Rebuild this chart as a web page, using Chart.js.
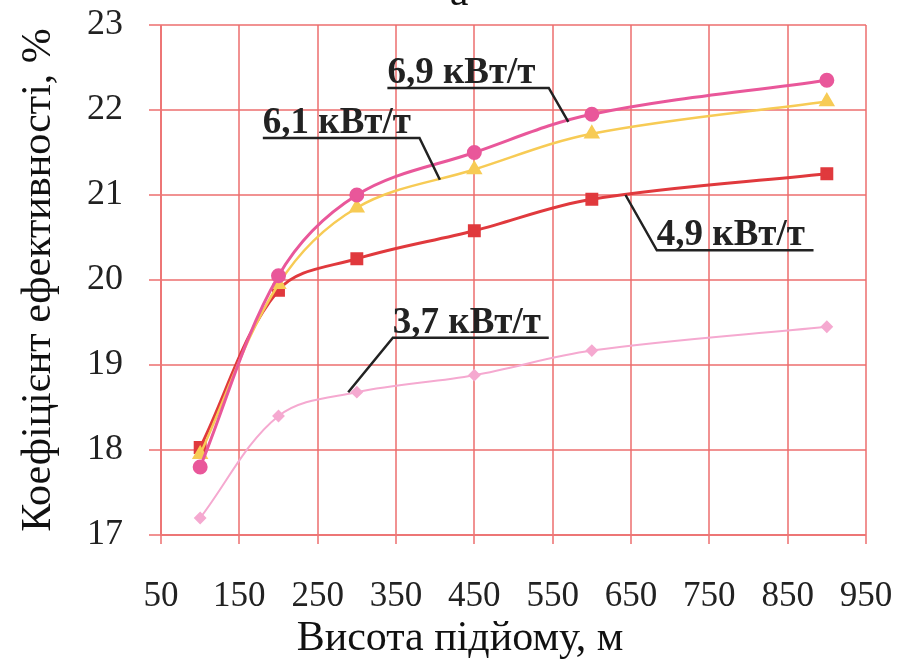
<!DOCTYPE html>
<html>
<head>
<meta charset="utf-8">
<script src="https://cdn.jsdelivr.net/npm/chart.js@4"></script>
<style>
  html, body { margin: 0; padding: 0; background: #fff; }
  #wrap { width: 918px; height: 663px; position: relative; }
</style>
</head>
<body>
<div id="wrap"><canvas id="chart"></canvas></div>
<script>
// lift heights, m
const heights = [100, 200, 300, 450, 600, 900];

// efficiency coefficient, % - one array per specific power
const eff69 = [17.8, 20.05, 21.0, 21.5, 21.95, 22.35];
const eff61 = [17.95, 19.95, 20.85, 21.3, 21.72, 22.1];
const eff49 = [18.03, 19.88, 20.25, 20.58, 20.95, 21.25];
const eff37 = [17.2, 18.4, 18.68, 18.88, 19.17, 19.45];

const seriesLabels = ['6,9 кВт/т', '6,1 кВт/т', '4,9 кВт/т', '3,7 кВт/т'];

const xTicks = [50, 150, 250, 350, 450, 550, 650, 750, 850, 950];
const yTicks = [17, 18, 19, 20, 21, 22, 23];

const gridColor = 'rgba(236, 110, 110, 0.75)';
const serif = '"Liberation Serif", "DejaVu Serif", serif';

function toPoints(ys) {
    return heights.map((h, i) => ({ x: h, y: ys[i] }));
}

// callouts in data units: text start, underline end, leader end
const callouts = [
    { text: seriesLabels[0], x0: 339, x1: 545, y: 22.26, lx: 570, ly: 21.86, from: 'end' },
    { text: seriesLabels[1], x0: 180, x1: 380, y: 21.67, lx: 406, ly: 21.18, from: 'end' },
    { text: seriesLabels[2], x0: 683, x1: 883, y: 20.35, lx: 643, ly: 21.0, from: 'start' },
    { text: seriesLabels[3], x0: 346, x1: 545, y: 19.32, lx: 289, ly: 18.68, from: 'start' },
];

const calloutPlugin = {
    id: 'callouts',
    afterDatasetsDraw(chart) {
        const { ctx, scales: { x, y } } = chart;
        ctx.save();
        ctx.strokeStyle = '#222';
        ctx.fillStyle = '#222';
        ctx.lineWidth = 2.5;
        ctx.font = 'bold 37px ' + serif;
        ctx.textBaseline = 'alphabetic';
        callouts.forEach(c => {
            const px0 = x.getPixelForValue(c.x0);
            const px1 = x.getPixelForValue(c.x1);
            const py = y.getPixelForValue(c.y);
            ctx.fillText(c.text, px0, py - 5);
            ctx.beginPath();
            if (c.from === 'end') {
                ctx.moveTo(px0, py);
                ctx.lineTo(px1, py);
            } else {
                ctx.moveTo(px1, py);
                ctx.lineTo(px0, py);
            }
            ctx.lineTo(x.getPixelForValue(c.lx), y.getPixelForValue(c.ly));
            ctx.stroke();
        });
        ctx.restore();
    },
    afterDraw(chart) {
        const { ctx, chartArea } = chart;
        ctx.save();
        ctx.fillStyle = '#111';
        ctx.font = '42px ' + serif;
        ctx.textAlign = 'center';
        ctx.textBaseline = 'alphabetic';
        // x axis title sits a little left of centre in the original
        ctx.fillText('Висота підйому, м', chartArea.left + 299, 650);
        // cut-off panel letter at the very top
        ctx.fillText('а', chartArea.left + 298, 5);
        ctx.restore();
    }
};

new Chart(document.getElementById('chart'), {
    type: 'line',
    data: {
        datasets: [
            {
                label: seriesLabels[0],
                data: toPoints(eff69),
                borderColor: '#e9579a',
                backgroundColor: '#e9579a',
                borderWidth: 3,
                pointStyle: 'circle',
                pointRadius: 6,
                tension: 0.35,
            },
            {
                label: seriesLabels[1],
                data: toPoints(eff61),
                borderColor: '#f7cb55',
                backgroundColor: '#f7cb55',
                borderWidth: 2.5,
                pointStyle: 'triangle',
                pointRadius: 7,
                tension: 0.35,
            },
            {
                label: seriesLabels[2],
                data: toPoints(eff49),
                borderColor: '#e0393d',
                backgroundColor: '#e0393d',
                borderWidth: 3,
                pointStyle: 'rect',
                pointRadius: 7,
                tension: 0.35,
            },
            {
                label: seriesLabels[3],
                data: toPoints(eff37),
                borderColor: '#f5a9d0',
                backgroundColor: '#f5a9d0',
                borderWidth: 2,
                pointStyle: 'rectRot',
                pointRadius: 5,
                tension: 0.35,
            },
        ],
    },
    options: {
        responsive: true,
        maintainAspectRatio: false,
        animation: false,
        layout: { padding: { top: 25, right: 52, left: 0, bottom: 0 } },
        plugins: {
            legend: { display: false },
            tooltip: { enabled: false },
        },
        scales: {
            x: {
                type: 'linear',
                min: xTicks[0],
                max: xTicks[xTicks.length - 1],
                afterBuildTicks(axis) {
                    axis.ticks = xTicks.map(v => ({ value: v }));
                },
                afterFit(axis) {
                    axis.height = 128;
                    axis.paddingLeft = 0;
                    axis.paddingRight = 0;
                },
                grid: { color: gridColor, lineWidth: 2, tickLength: 9, tickColor: gridColor },
                border: { color: gridColor, width: 2 },
                ticks: { font: { family: serif, size: 35 }, color: '#222', padding: 32, maxRotation: 0, autoSkip: false },
            },
            y: {
                min: yTicks[0],
                max: yTicks[yTicks.length - 1],
                afterBuildTicks(axis) {
                    axis.ticks = yTicks.map(v => ({ value: v }));
                },
                afterFit(axis) {
                    axis.width = 161;
                    axis.paddingTop = 0;
                    axis.paddingBottom = 0;
                },
                grid: { color: gridColor, lineWidth: 2, tickLength: 12, tickColor: gridColor },
                border: { color: gridColor, width: 2 },
                ticks: { font: { family: serif, size: 36 }, color: '#222', padding: 26 },
                title: {
                    display: true,
                    text: 'Коефіцієнт ефективності, %',
                    font: { family: serif, size: 42 },
                    color: '#111',
                    padding: { top: 14, bottom: 0 },
                },
            },
        },
    },
    plugins: [calloutPlugin],
});
</script>
</body>
</html>
